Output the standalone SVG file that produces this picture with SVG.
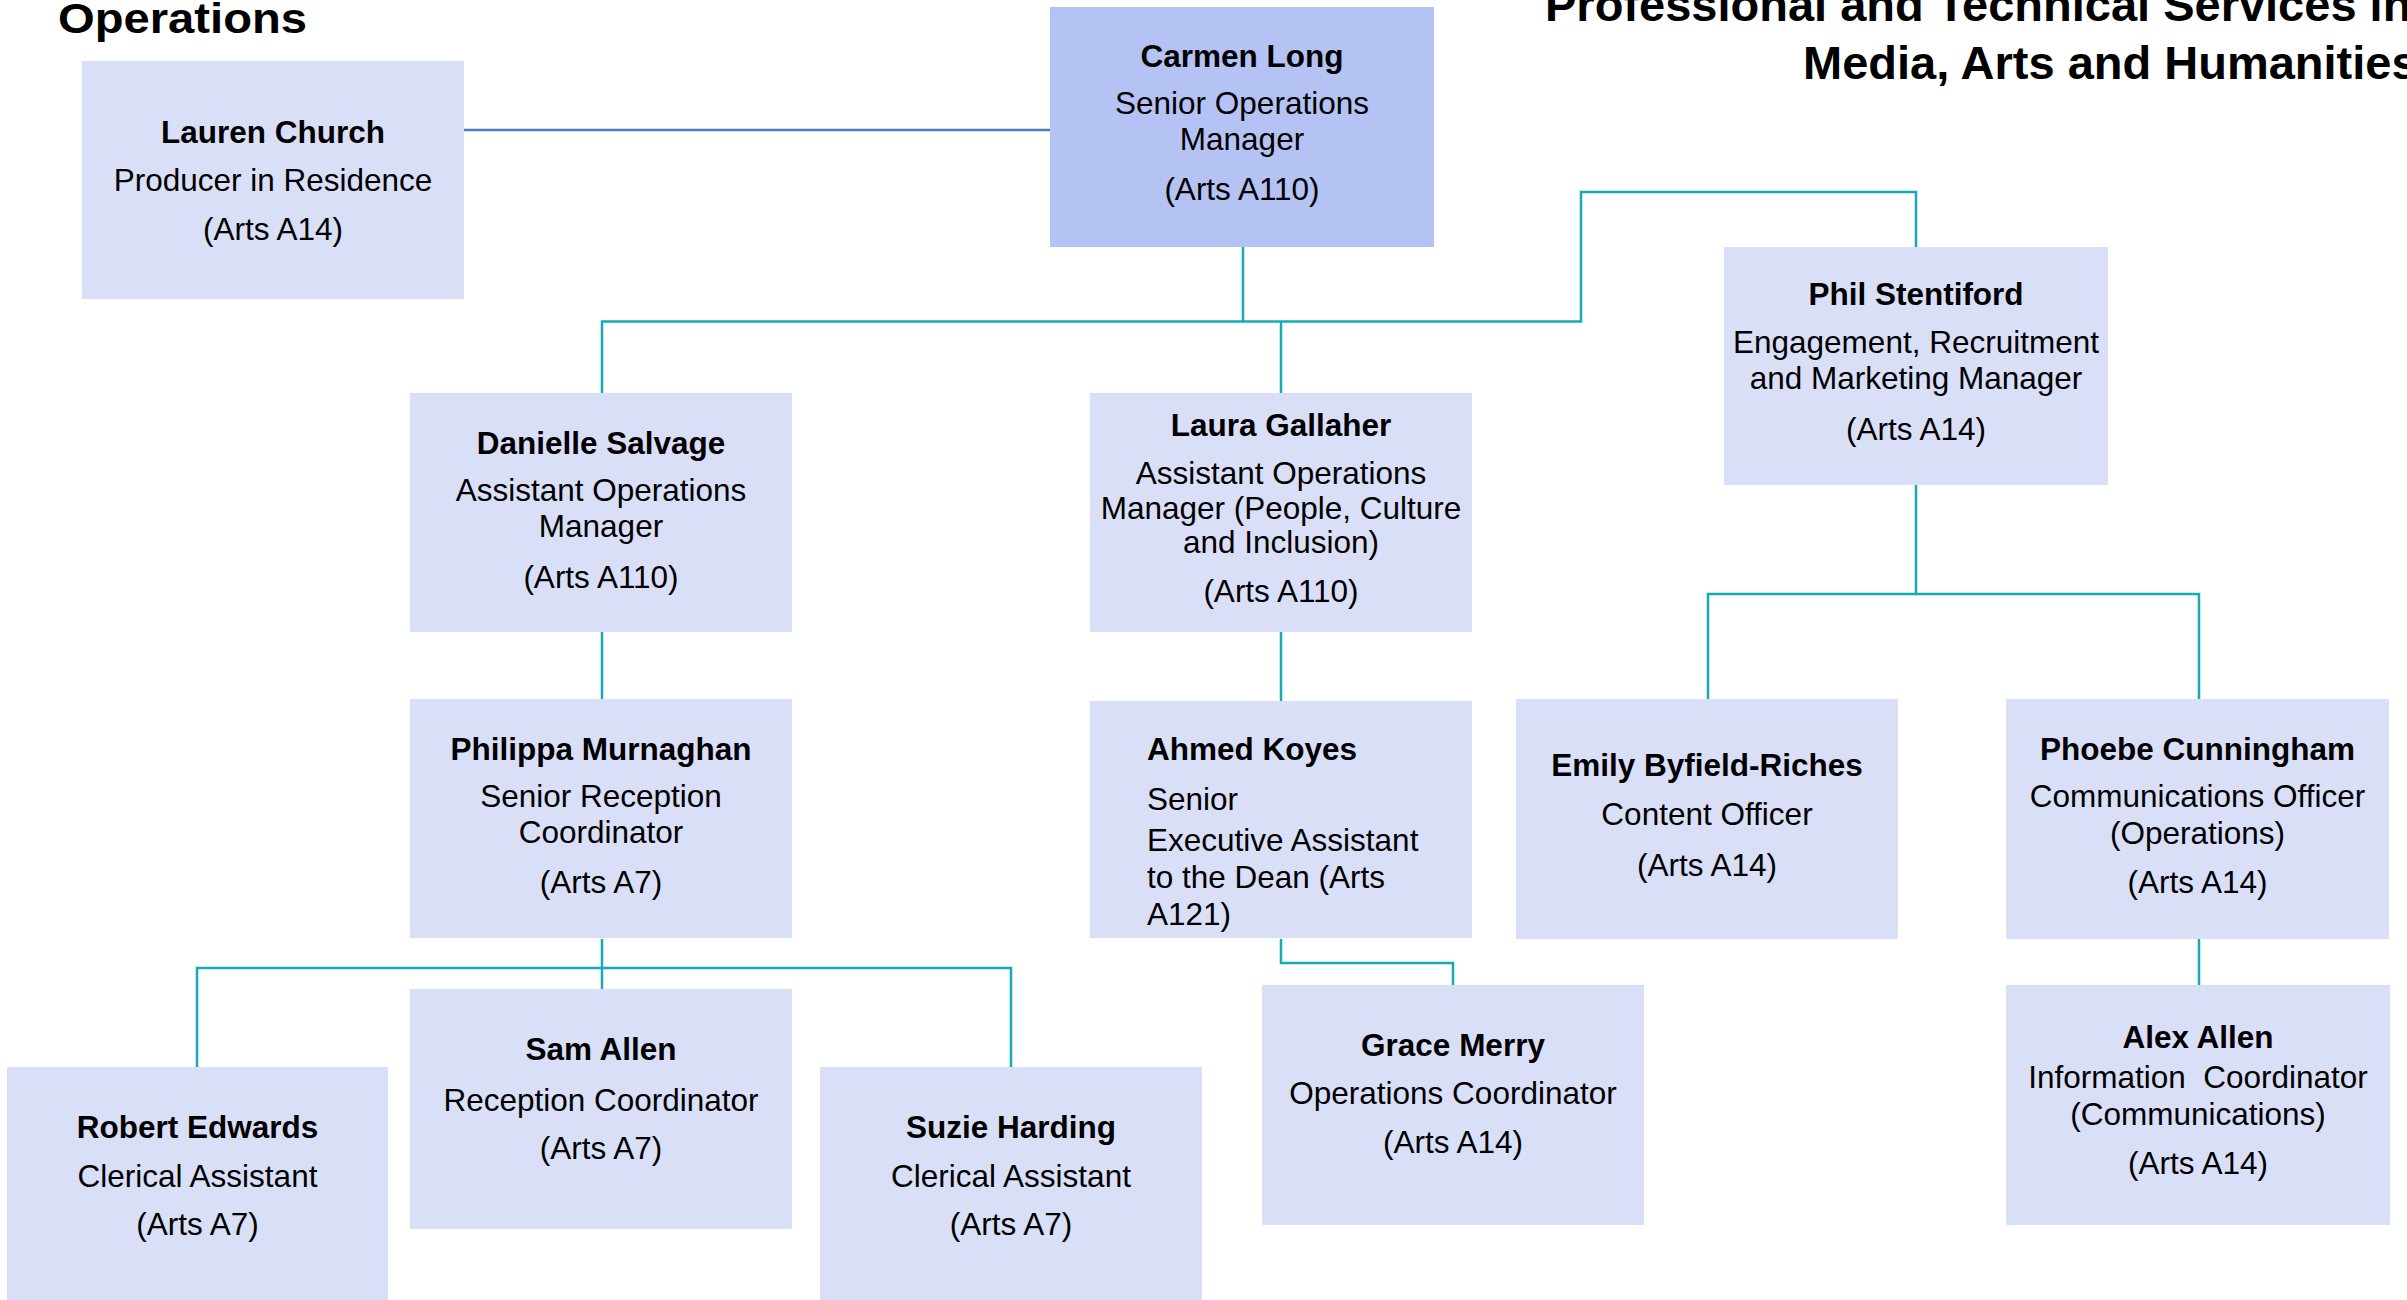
<svg xmlns="http://www.w3.org/2000/svg" width="2407" height="1300" viewBox="0 0 2407 1300">
<style>
.box{fill:#dadff8;}
.top{fill:#b4c3f3;}
text{font-family:"Liberation Sans",Arial,sans-serif;fill:#000;}
.n{font-weight:bold;font-size:31.5px;text-anchor:middle;}
.r{font-size:31.5px;text-anchor:middle;}
.nl{font-weight:bold;font-size:31.5px;}
.rl{font-size:31.5px;}
.title{font-weight:bold;font-size:47px;}
.c{fill:none;stroke:#16aab8;stroke-width:2.5;}
.b{fill:none;stroke:#4a7ebb;stroke-width:2.5;}
</style>
<rect width="2407" height="1300" fill="#fff"/>
<g id="titles">
<text class="title" x="58" y="33" font-size="43" textLength="249" lengthAdjust="spacingAndGlyphs" style="font-size:43px">Operations</text>
<text class="title" x="1545" y="21">Professional and Technical Services in</text>
<text class="title" x="1803" y="79">Media, Arts and Humanities</text>
</g>
<g id="connectors">
<path class="b" d="M464,130 H1050"/>
<path class="c" d="M1243,247 V321.5"/>
<path class="c" d="M602,393 V321.5 H1581 V192 H1916 V247"/>
<path class="c" d="M1281,321.5 V393"/>
<path class="c" d="M602,632 V699"/>
<path class="c" d="M602,939 V989"/>
<path class="c" d="M197,1067 V968 H1011 V1067"/>
<path class="c" d="M1281,632 V701"/>
<path class="c" d="M1281,939 V963 H1453 V985"/>
<path class="c" d="M1916,485 V594"/>
<path class="c" d="M1708,699 V594 H2199 V699"/>
<path class="c" d="M2199,939 V985"/>
</g>
<g id="lauren">
<rect class="box" x="82" y="61" width="382" height="238"/>
<text class="n" x="273" y="143">Lauren Church</text>
<text class="r" x="273" y="191">Producer in Residence</text>
<text class="r" x="273" y="240">(Arts A14)</text>
</g>
<g id="carmen">
<rect class="top" x="1050" y="7" width="384" height="240"/>
<text class="n" x="1242" y="67">Carmen Long</text>
<text class="r" x="1242" y="114">Senior Operations</text>
<text class="r" x="1242" y="150">Manager</text>
<text class="r" x="1242" y="200">(Arts A110)</text>
</g>
<g id="phil">
<rect class="box" x="1724" y="247" width="384" height="238"/>
<text class="n" x="1916" y="305">Phil Stentiford</text>
<text class="r" x="1916" y="353">Engagement, Recruitment</text>
<text class="r" x="1916" y="389">and Marketing Manager</text>
<text class="r" x="1916" y="440">(Arts A14)</text>
</g>
<g id="danielle">
<rect class="box" x="410" y="393" width="382" height="239"/>
<text class="n" x="601" y="454">Danielle Salvage</text>
<text class="r" x="601" y="501">Assistant Operations</text>
<text class="r" x="601" y="537">Manager</text>
<text class="r" x="601" y="588">(Arts A110)</text>
</g>
<g id="laura">
<rect class="box" x="1090" y="393" width="382" height="239"/>
<text class="n" x="1281" y="436">Laura Gallaher</text>
<text class="r" x="1281" y="484">Assistant Operations</text>
<text class="r" x="1281" y="519">Manager (People, Culture</text>
<text class="r" x="1281" y="553">and Inclusion)</text>
<text class="r" x="1281" y="602">(Arts A110)</text>
</g>
<g id="philippa">
<rect class="box" x="410" y="699" width="382" height="239"/>
<text class="n" x="601" y="760">Philippa Murnaghan</text>
<text class="r" x="601" y="807">Senior Reception</text>
<text class="r" x="601" y="843">Coordinator</text>
<text class="r" x="601" y="893">(Arts A7)</text>
</g>
<g id="ahmed">
<rect class="box" x="1090" y="701" width="382" height="237"/>
<text class="nl" x="1147" y="760">Ahmed Koyes</text>
<text class="rl" x="1147" y="810">Senior</text>
<text class="rl" x="1147" y="851">Executive Assistant</text>
<text class="rl" x="1147" y="888">to the Dean (Arts</text>
<text class="rl" x="1147" y="925">A121)</text>
</g>
<g id="emily">
<rect class="box" x="1516" y="699" width="382" height="240"/>
<text class="n" x="1707" y="776">Emily Byfield-Riches</text>
<text class="r" x="1707" y="825">Content Officer</text>
<text class="r" x="1707" y="876">(Arts A14)</text>
</g>
<g id="phoebe">
<rect class="box" x="2006" y="699" width="383" height="240"/>
<text class="n" x="2197.5" y="760">Phoebe Cunningham</text>
<text class="r" x="2197.5" y="807">Communications Officer</text>
<text class="r" x="2197.5" y="844">(Operations)</text>
<text class="r" x="2197.5" y="893">(Arts A14)</text>
</g>
<g id="robert">
<rect class="box" x="7" y="1067" width="381" height="240"/>
<text class="n" x="197.5" y="1138">Robert Edwards</text>
<text class="r" x="197.5" y="1187">Clerical Assistant</text>
<text class="r" x="197.5" y="1235">(Arts A7)</text>
</g>
<g id="sam">
<rect class="box" x="410" y="989" width="382" height="240"/>
<text class="n" x="601" y="1060">Sam Allen</text>
<text class="r" x="601" y="1111">Reception Coordinator</text>
<text class="r" x="601" y="1159">(Arts A7)</text>
</g>
<g id="suzie">
<rect class="box" x="820" y="1067" width="382" height="240"/>
<text class="n" x="1011" y="1138">Suzie Harding</text>
<text class="r" x="1011" y="1187">Clerical Assistant</text>
<text class="r" x="1011" y="1235">(Arts A7)</text>
</g>
<g id="grace">
<rect class="box" x="1262" y="985" width="382" height="240"/>
<text class="n" x="1453" y="1056">Grace Merry</text>
<text class="r" x="1453" y="1104">Operations Coordinator</text>
<text class="r" x="1453" y="1153">(Arts A14)</text>
</g>
<g id="alex">
<rect class="box" x="2006" y="985" width="384" height="240"/>
<text class="n" x="2198" y="1048">Alex Allen</text>
<text class="r" x="2198" y="1088" xml:space="preserve">Information  Coordinator</text>
<text class="r" x="2198" y="1125">(Communications)</text>
<text class="r" x="2198" y="1174">(Arts A14)</text>
</g>
</svg>
